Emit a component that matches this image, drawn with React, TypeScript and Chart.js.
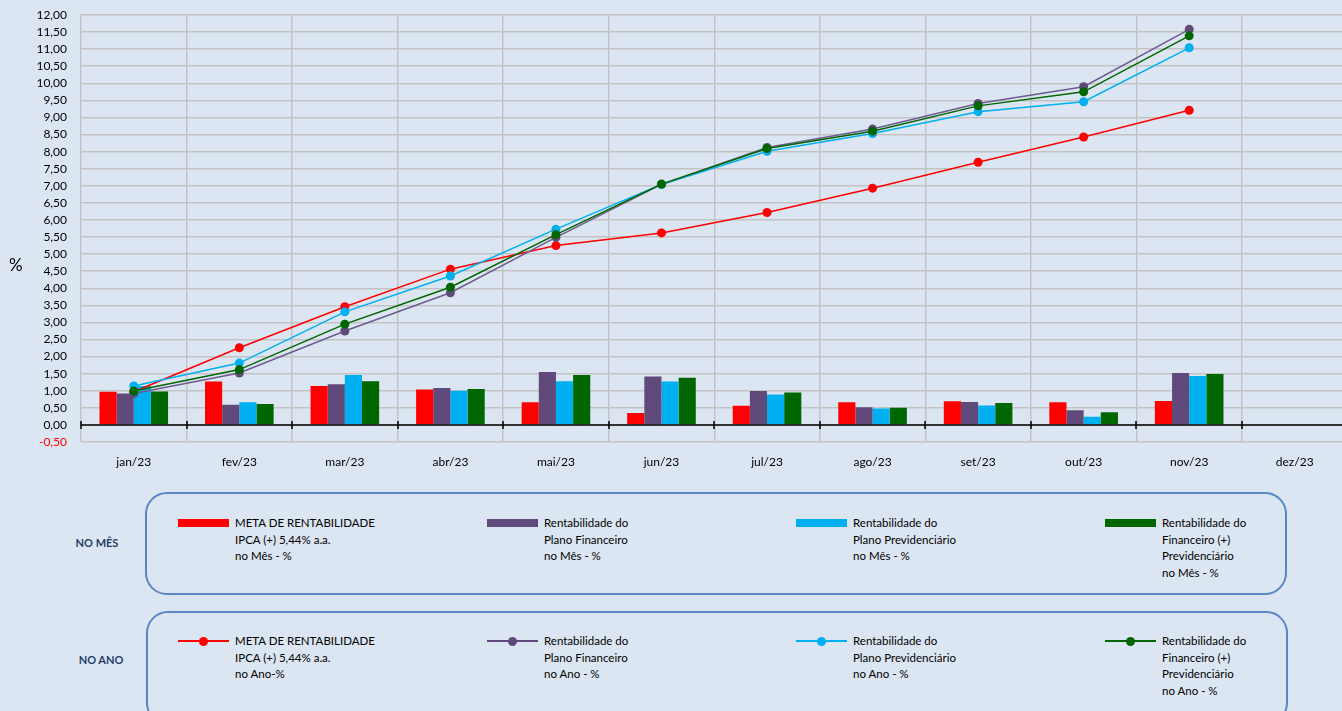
import React, { useEffect, useRef } from "react";
import { Chart, registerables } from "chart.js";

Chart.register(...registerables);

const categories = ["jan/23", "fev/23", "mar/23", "abr/23", "mai/23", "jun/23", "jul/23", "ago/23", "set/23", "out/23", "nov/23", "dez/23"];

// No mês (bars)
const metaMes = [0.97, 1.27, 1.14, 1.04, 0.66, 0.35, 0.56, 0.66, 0.69, 0.66, 0.70, null];
const finMes = [0.92, 0.59, 1.19, 1.08, 1.55, 1.42, 0.99, 0.52, 0.67, 0.43, 1.52, null];
const prevMes = [1.14, 0.66, 1.46, 1.00, 1.28, 1.27, 0.89, 0.48, 0.57, 0.24, 1.43, null];
const combMes = [0.98, 0.61, 1.28, 1.05, 1.46, 1.38, 0.95, 0.50, 0.64, 0.37, 1.49, null];

// No ano (lines)
const metaAno = [0.97, 2.26, 3.46, 4.56, 5.25, 5.62, 6.22, 6.93, 7.69, 8.43, 9.21, null];
const finAno = [0.92, 1.52, 2.75, 3.87, 5.49, 7.04, 8.12, 8.66, 9.41, 9.90, 11.58, null];
const prevAno = [1.14, 1.81, 3.31, 4.36, 5.73, 7.04, 8.01, 8.53, 9.17, 9.46, 11.04, null];
const combAno = [0.99, 1.62, 2.95, 4.03, 5.57, 7.05, 8.09, 8.60, 9.34, 9.75, 11.39, null];

const yMin = -0.5;
const yMax = 12;
const yStep = 0.5;

const RED = "#FF0000";
const PURPLE = "#604A7B";
const BLUE = "#00B0F0";
const GREEN = "#006600";
const BG = "#DCE6F2";
const FONT = "Lato, 'Open Sans', sans-serif";

const legendMes = [
  { color: RED, lines: ["META DE RENTABILIDADE", "IPCA (+) 5,44% a.a.", "no Mês - %"] },
  { color: PURPLE, lines: ["Rentabilidade do", "Plano Financeiro", "no Mês - %"] },
  { color: BLUE, lines: ["Rentabilidade do", "Plano Previdenciário", "no Mês - %"] },
  { color: GREEN, lines: ["Rentabilidade do", "Financeiro (+)", "Previdenciário", "no Mês - %"] },
];
const legendAno = [
  { color: RED, lines: ["META DE RENTABILIDADE", "IPCA (+) 5,44% a.a.", "no Ano-%"] },
  { color: PURPLE, lines: ["Rentabilidade do", "Plano Financeiro", "no Ano - %"] },
  { color: BLUE, lines: ["Rentabilidade do", "Plano Previdenciário", "no Ano - %"] },
  { color: GREEN, lines: ["Rentabilidade do", "Financeiro (+)", "Previdenciário", "no Ano - %"] },
];
const itemX = [178, 487, 796, 1105];

const zeroAxisPlugin = {
  id: "zeroAxis",
  afterDatasetsDraw(chart: any) {
    const { ctx, chartArea, scales } = chart;
    const y0 = scales.y.getPixelForValue(0);
    ctx.save();
    ctx.strokeStyle = "#000000";
    ctx.lineWidth = 1.5;
    ctx.beginPath();
    ctx.moveTo(chartArea.left, y0);
    ctx.lineTo(chartArea.right, y0);
    ctx.stroke();
    const n = scales.x.ticks.length;
    const w = (chartArea.right - chartArea.left) / n;
    for (let i = 0; i <= n; i++) {
      const x = Math.round(chartArea.left + i * w);
      ctx.beginPath();
      ctx.moveTo(x, y0 - 4);
      ctx.lineTo(x, y0 + 4);
      ctx.stroke();
    }
    ctx.restore();
  },
};

function ChartCanvas() {
  const ref = useRef<HTMLCanvasElement | null>(null);
  useEffect(() => {
    if (!ref.current) return;
    const barCommon = { categoryPercentage: 0.65, barPercentage: 1.0, borderWidth: 0, order: 10 };
    const lineCommon = { type: "line" as const, borderWidth: 1.5, pointRadius: 4.5, pointBorderWidth: 0, pointHoverRadius: 4.5, tension: 0, spanGaps: false };
    const chart = new Chart(ref.current, {
      type: "bar",
      data: {
        labels: categories,
        datasets: [
          { ...barCommon, label: "Meta mês", data: metaMes, backgroundColor: RED },
          { ...barCommon, label: "Fin mês", data: finMes, backgroundColor: PURPLE },
          { ...barCommon, label: "Prev mês", data: prevMes, backgroundColor: BLUE },
          { ...barCommon, label: "Comb mês", data: combMes, backgroundColor: GREEN },
          { ...lineCommon, label: "Meta ano", data: metaAno, borderColor: RED, backgroundColor: RED, pointBackgroundColor: RED, order: 4 },
          { ...lineCommon, label: "Fin ano", data: finAno, borderColor: "#6E5C90", backgroundColor: PURPLE, pointBackgroundColor: PURPLE, order: 3 },
          { ...lineCommon, label: "Prev ano", data: prevAno, borderColor: BLUE, backgroundColor: BLUE, pointBackgroundColor: BLUE, order: 2 },
          { ...lineCommon, label: "Comb ano", data: combAno, borderColor: GREEN, backgroundColor: GREEN, pointBackgroundColor: GREEN, order: 1 },
        ] as any,
      },
      options: {
        animation: false,
        responsive: false,
        maintainAspectRatio: false,
        layout: { padding: { top: 15, left: 0, right: 0, bottom: 0 } },
        plugins: { legend: { display: false }, tooltip: { enabled: false } },
        scales: {
          x: {
            offset: true,
            grid: { offset: true, color: "#C3C3C3", lineWidth: 1.5, drawTicks: false },
            border: { display: false },
            ticks: { color: "#000000", font: { family: FONT, size: 12 }, padding: 13, maxRotation: 0, autoSkip: false },
            afterFit: (s: any) => { s.height = 38; },
          },
          y: {
            min: yMin,
            max: yMax,
            grid: { color: "#C3C3C3", lineWidth: 1.5, drawTicks: true, tickLength: 14, tickColor: "rgba(0,0,0,0)" },
            border: { display: false },
            ticks: {
              stepSize: yStep,
              autoSkip: false,
              padding: 0,
              font: { family: FONT, size: 12 },
              color: (c: any) => (c.tick && c.tick.value < 0 ? "#FF0000" : "#000000"),
              callback: (v: any) => Number(v).toFixed(2).replace(".", ","),
            },
            afterFit: (s: any) => { s.width = 81; },
          },
        },
      },
      plugins: [zeroAxisPlugin],
    });
    return () => chart.destroy();
  }, []);
  return <canvas ref={ref} width={1352} height={480} style={{ position: "absolute", left: 0, top: 0, width: 1352, height: 480 }} />;
}

const textStyle: React.CSSProperties = {
  position: "absolute",
  fontFamily: FONT,
  fontSize: 11.5,
  lineHeight: "16.5px",
  color: "#000000",
  whiteSpace: "nowrap",
};

export default function App() {
  return (
    <div style={{ position: "fixed", left: 0, top: 0, width: 1342, height: 711, overflow: "hidden", background: BG }}>
      <ChartCanvas />
      <div style={{ position: "absolute", left: 9, top: 254, fontFamily: FONT, fontSize: 17, color: "#000" }}>%</div>

      <div style={{ position: "absolute", left: 145, top: 492, width: 1138, height: 99, border: "2px solid #5A87C6", borderRadius: 22 }} />
      <div style={{ position: "absolute", left: 146, top: 611, width: 1138, height: 110, border: "2px solid #5A87C6", borderRadius: 22 }} />

      <div style={{ position: "absolute", left: 70, top: 536, width: 54, textAlign: "center", fontFamily: FONT, fontSize: 11, fontWeight: 700, color: "#1F3D6B" }}>NO MÊS</div>
      <div style={{ position: "absolute", left: 74, top: 653, width: 54, textAlign: "center", fontFamily: FONT, fontSize: 11, fontWeight: 700, color: "#1F3D6B" }}>NO ANO</div>

      {legendMes.map((it, i) => (
        <React.Fragment key={"m" + i}>
          <div style={{ position: "absolute", left: itemX[i], top: 519, width: 51, height: 8, background: it.color }} />
          <div style={{ ...textStyle, left: itemX[i] + 57, top: 515 }}>
            {it.lines.map((l, j) => (<div key={j}>{l}</div>))}
          </div>
        </React.Fragment>
      ))}
      {legendAno.map((it, i) => (
        <React.Fragment key={"a" + i}>
          <div style={{ position: "absolute", left: itemX[i], top: 640, width: 51, height: 1.5, background: it.color }} />
          <div style={{ position: "absolute", left: itemX[i] + 21, top: 636.5, width: 9, height: 9, borderRadius: "50%", background: it.color }} />
          <div style={{ ...textStyle, left: itemX[i] + 57, top: 633 }}>
            {it.lines.map((l, j) => (<div key={j}>{l}</div>))}
          </div>
        </React.Fragment>
      ))}
    </div>
  );
}
